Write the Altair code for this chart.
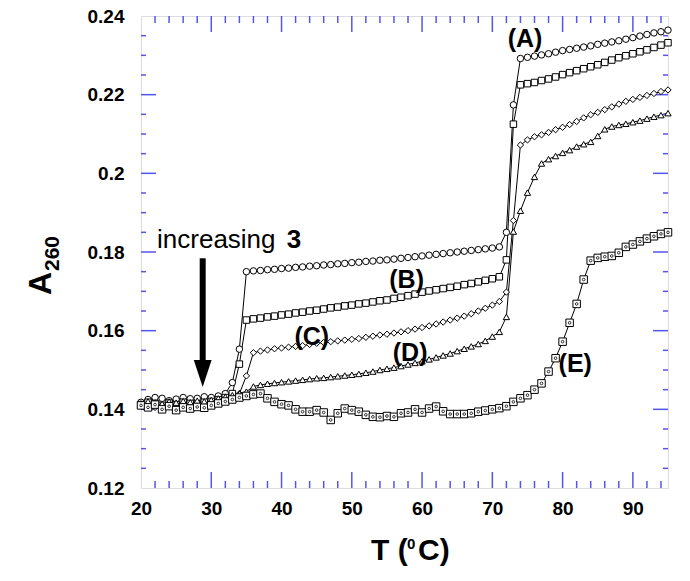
import altair as alt
import pandas as pd

# ---------------- data ----------------
T = list(range(20, 96))

A_vals = [0.1418, 0.1425, 0.1430, 0.1428, 0.1422, 0.1426, 0.1430, 0.1427, 0.1428, 0.1432, 0.1430, 0.1434, 0.1440, 0.1468,
          0.1553, 0.1750,
          0.1752, 0.1753, 0.1755, 0.1756, 0.1758, 0.1759, 0.1761, 0.1762, 0.1764, 0.1765,
          0.1767, 0.1768, 0.1770, 0.1771, 0.1773, 0.1774, 0.1776, 0.1777, 0.1779, 0.1780,
          0.1782, 0.1784, 0.1786, 0.1788, 0.1790, 0.1792, 0.1794, 0.1796, 0.1798, 0.1800,
          0.1802, 0.1804, 0.1806, 0.1808, 0.1810, 0.1813, 0.1850, 0.2174,
          0.2292, 0.2295, 0.2298, 0.2301, 0.2304, 0.2308, 0.2312, 0.2315, 0.2318, 0.2321, 0.2324,
          0.2328, 0.2331, 0.2334, 0.2337, 0.2341, 0.2345, 0.2349, 0.2353, 0.2357, 0.2360, 0.2364]

B_vals = [0.1412, 0.1418, 0.1415, 0.1410, 0.1416, 0.1412, 0.1418, 0.1415, 0.1413, 0.1418, 0.1420, 0.1424, 0.1430, 0.1440,
          0.1515, 0.1627,
          0.1630, 0.1632, 0.1635, 0.1637, 0.1640, 0.1642, 0.1645, 0.1647, 0.1650, 0.1652,
          0.1655, 0.1658, 0.1660, 0.1663, 0.1665, 0.1668, 0.1670, 0.1673, 0.1676, 0.1678,
          0.1682, 0.1685, 0.1689, 0.1693, 0.1698, 0.1701, 0.1704, 0.1707, 0.1710, 0.1713,
          0.1717, 0.1720, 0.1724, 0.1728, 0.1732, 0.1737, 0.1780, 0.2125,
          0.2225, 0.2228, 0.2231, 0.2236, 0.2240, 0.2245, 0.2251, 0.2256, 0.2261, 0.2266, 0.2271,
          0.2276, 0.2282, 0.2288, 0.2294, 0.2299, 0.2304, 0.2309, 0.2314, 0.2320, 0.2326, 0.2332]

C_vals = [0.1408, 0.1412, 0.1405, 0.1410, 0.1407, 0.1412, 0.1408, 0.1410, 0.1413, 0.1410, 0.1415, 0.1418, 0.1423, 0.1430,
          0.1440, 0.1485,
          0.1544, 0.1548, 0.1551, 0.1554, 0.1556, 0.1558, 0.1560, 0.1562, 0.1565, 0.1568,
          0.1570, 0.1572, 0.1574, 0.1576, 0.1578, 0.1580, 0.1583, 0.1586, 0.1589, 0.1591,
          0.1594, 0.1597, 0.1600, 0.1604, 0.1608, 0.1612, 0.1617, 0.1622, 0.1627, 0.1632,
          0.1637, 0.1643, 0.1650, 0.1657, 0.1665, 0.1674, 0.1698, 0.1880,
          0.2072, 0.2085, 0.2093, 0.2098, 0.2104, 0.2111, 0.2117, 0.2124, 0.2132, 0.2141, 0.2149,
          0.2155, 0.2162, 0.2169, 0.2176, 0.2183, 0.2188, 0.2193, 0.2198, 0.2203, 0.2208, 0.2212]

D_vals = [0.1415, 0.1420, 0.1418, 0.1414, 0.1420, 0.1417, 0.1421, 0.1418, 0.1422, 0.1420, 0.1424, 0.1428, 0.1432, 0.1436,
          0.1440, 0.1445,
          0.1458, 0.1462, 0.1465, 0.1467, 0.1469, 0.1471, 0.1473, 0.1475, 0.1477, 0.1479,
          0.1480, 0.1482, 0.1484, 0.1486, 0.1488, 0.1490, 0.1493, 0.1496, 0.1500, 0.1503,
          0.1506, 0.1510, 0.1514, 0.1518, 0.1522, 0.1527, 0.1532, 0.1537, 0.1542, 0.1548,
          0.1554, 0.1560, 0.1566, 0.1574, 0.1585, 0.1597, 0.1635, 0.1852,
          0.1905, 0.1951, 0.1991, 0.2025, 0.2036, 0.2044, 0.2052, 0.2059, 0.2068, 0.2074, 0.2080,
          0.2095, 0.2112, 0.2119, 0.2123, 0.2126, 0.2130, 0.2134, 0.2139, 0.2144, 0.2148, 0.2153]

E_vals = [0.1410, 0.1405, 0.1412, 0.1400, 0.1408, 0.1398, 0.1405, 0.1402, 0.1406, 0.1404, 0.1410, 0.1415, 0.1420, 0.1425,
          0.1430, 0.1434,
          0.1438, 0.1440, 0.1428, 0.1419, 0.1413, 0.1410, 0.1400, 0.1394, 0.1394, 0.1398,
          0.1392, 0.1373, 0.1390, 0.1402, 0.1398, 0.1394, 0.1386, 0.1381, 0.1380, 0.1383,
          0.1381, 0.1390, 0.1392, 0.1400, 0.1392, 0.1402, 0.1407, 0.1395, 0.1388, 0.1388,
          0.1388, 0.1390, 0.1394, 0.1397, 0.1400, 0.1403, 0.1408, 0.1419,
          0.1428, 0.1436, 0.1450, 0.1466, 0.1496, 0.1530, 0.1572, 0.1620, 0.1668, 0.1730, 0.1778,
          0.1785, 0.1788, 0.1790, 0.1798, 0.1813, 0.1819, 0.1827, 0.1834, 0.1840, 0.1846, 0.1850]

series_names = ["A", "B", "C", "D", "E"]
x_label_values = [20, 30, 40, 50, 60, 70, 80, 90]
y_label_values = [0.12, 0.14, 0.16, 0.18, 0.2, 0.22, 0.24]
x_minor = [t for t in range(22, 95, 2) if t % 10 != 0]
y_major = [0.14, 0.16, 0.18, 0.2, 0.22]
y_minor = [0.125, 0.13, 0.135, 0.145, 0.15, 0.155, 0.165, 0.17, 0.175,
           0.185, 0.19, 0.195, 0.205, 0.21, 0.215, 0.225, 0.23, 0.235]

label_text = ["(A)", "(B)", "(C)", "(D)", "(E)"]
label_T = [74.65, 57.8, 44.3, 58.3, 81.8]
label_A = [0.2342, 0.1729, 0.1585, 0.1544, 0.1514]

arrow_T = 28.78
arrow_top = 0.1784
arrow_head = 0.1491

# ---------------- build ----------------
rows = []
for name, vals in zip(series_names, [A_vals, B_vals, C_vals, D_vals, E_vals]):
    assert len(vals) == len(T)
    for t, v in zip(T, vals):
        rows.append({"T": t, "A260": v, "series": name})
df = pd.DataFrame(rows)

W, H = 527, 472
BLUE = "#5555ee"
FONT = "Liberation Sans"

xs = alt.Scale(domain=[20, 95], nice=False, zero=False)
ys = alt.Scale(domain=[0.12, 0.24], nice=False, zero=False)

x_axis = alt.Axis(values=x_label_values, ticks=False, domain=False, grid=False, title=None,
                  labelFont=FONT, labelFontSize=19, labelFontWeight="bold", labelColor="black",
                  labelPadding=11, labelFlush=False, labelOverlap=False)
y_axis = alt.Axis(values=y_label_values, ticks=False, domain=False, grid=False, title=None,
                  format=".2~f", labelFont=FONT, labelFontSize=19, labelFontWeight="bold",
                  labelColor="black", labelPadding=17, labelFlush=False, labelOverlap=False)


def X(field="T"):
    return alt.X(f"{field}:Q", scale=xs, axis=x_axis)


def Y(field="A260"):
    return alt.Y(f"{field}:Q", scale=ys, axis=y_axis)


base = alt.Chart(df)
lines = base.mark_line(color="black", strokeWidth=1).encode(x=X(), y=Y(), detail="series:N")


def pts(name, shape, size, sw=1.0):
    return base.transform_filter(alt.datum.series == name).mark_point(
        shape=shape, size=size, filled=True, fill="white", stroke="black",
        strokeWidth=sw, opacity=1
    ).encode(x=X(), y=Y())


p_a = pts("A", "circle", 42)
p_b = pts("B", "square", 42)
p_c = pts("C", "diamond", 40)
p_d = pts("D", "triangle-up", 40)
p_e = pts("E", "square", 56)
p_e2 = pts("E", "circle", 7, 0.8)


# inward ticks
def xticks(vals, y0, y1):
    return alt.Chart(pd.DataFrame({"T": vals})).mark_rule(color=BLUE, strokeWidth=1.5).encode(
        x=X(), y=alt.value(y0), y2=alt.value(y1))


def yticks(vals, x0, x1):
    return alt.Chart(pd.DataFrame({"A260": vals})).mark_rule(color=BLUE, strokeWidth=1.5).encode(
        y=Y(), x=alt.value(x0), x2=alt.value(x1))


xmaj = x_label_values[1:]
ticks = [
    xticks(xmaj, H, H - 16), xticks(x_minor, H, H - 7),
    xticks(xmaj, 0, 16), xticks(x_minor, 0, 7),
    yticks(y_major, 0, 15), yticks(y_minor, 0, 5),
    yticks(y_major, W, W - 15), yticks(y_minor, W, W - 5),
]

lab_df = pd.DataFrame({"T": label_T, "A260": label_A, "text": label_text})
labels = alt.Chart(lab_df).mark_text(font=FONT, fontSize=25, fontWeight="bold", color="black",
                                      align="center", baseline="middle").encode(
    x=X(), y=Y(), text="text:N")

inc_df = pd.DataFrame({"T": [22.28], "A260": [0.1810], "text": ["increasing"]})
inc = alt.Chart(inc_df).mark_text(font=FONT, fontSize=26, color="black", align="left",
                                  baseline="alphabetic").encode(x=X(), y=Y(), text="text:N")
three_df = pd.DataFrame({"T": [40.75], "A260": [0.1810], "text": ["3"]})
three = alt.Chart(three_df).mark_text(font=FONT, fontSize=26, fontWeight="bold", color="black",
                                      align="left", baseline="alphabetic").encode(x=X(), y=Y(), text="text:N")

arr_df = pd.DataFrame({"T": [arrow_T], "A260": [arrow_top], "bot": [arrow_head]})
shaft = alt.Chart(arr_df).mark_rule(color="black", strokeWidth=6).encode(x=X(), y=Y(), y2="bot:Q")
head = alt.Chart(arr_df).mark_point(shape="M -0.66 -1 L 0.66 -1 L 0 1 Z", size=729, filled=True,
                                    color="black", opacity=1).encode(x=X(), y=Y("bot"))


# axis titles (text with sub/superscripts)
def ptext(txt, x, y, size, angle=0, align="left", baseline="alphabetic"):
    kw = dict(font=FONT, fontSize=size, fontWeight="bold", color="black", align=align, baseline=baseline)
    if angle:
        kw["angle"] = angle
    return alt.Chart(pd.DataFrame({"t": [txt]})).mark_text(**kw).encode(
        x=alt.value(x), y=alt.value(y), text="t:N")


titles = [
    ptext("T (", 230, 544, 30),
    ptext("0", 266, 533, 15),
    ptext("C)", 277, 544, 30),
    ptext("A", -90, 279, 32, angle=270),
    ptext("260", -82, 255, 21, angle=270),
]

chart = alt.layer(lines, *ticks, p_a, p_b, p_c, p_d, p_e, p_e2, labels, inc, three, shaft, head, *titles).properties(
    width=W, height=H,
    autosize=alt.AutoSizeParams(type="none"),
    padding={"left": 133, "top": 8, "right": 14, "bottom": 85},
).configure_view(stroke=BLUE, strokeWidth=2).configure(background="white")

chart.save("out.html", embed_options={"renderer": "svg", "actions": False})
